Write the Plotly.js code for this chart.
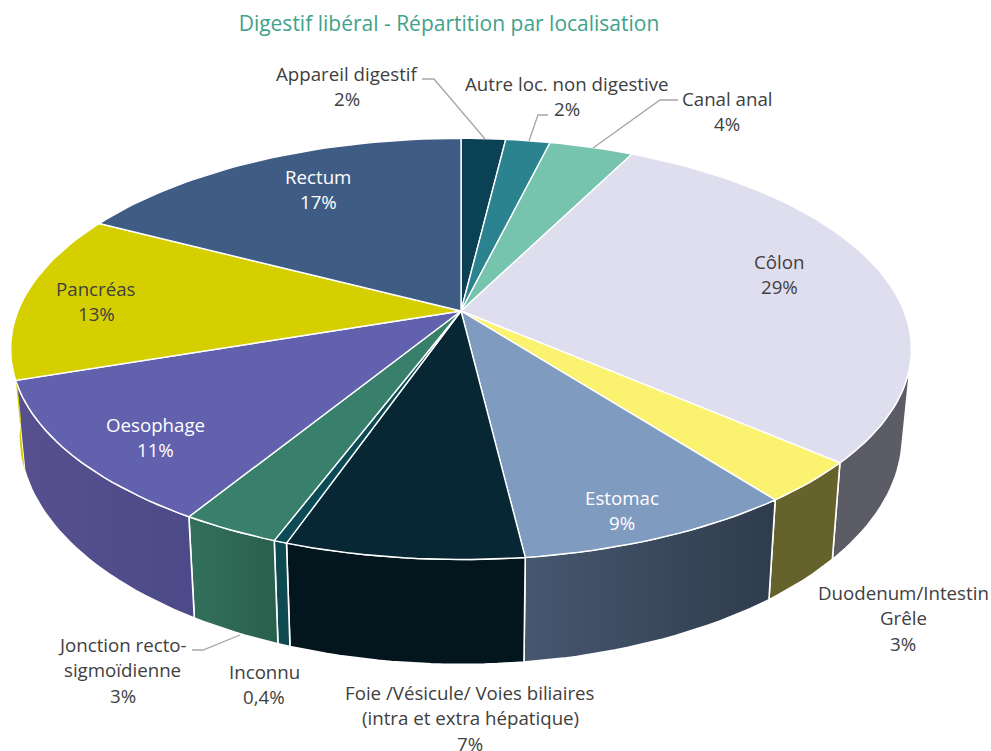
<!DOCTYPE html>
<html>
<head>
<meta charset="utf-8">
<script src="https://cdn.plot.ly/plotly-3.0.1.min.js"></script>
<style>html,body{margin:0;padding:0;background:#fff}#c{width:991px;height:751px}</style>
</head>
<body>
<div id="c"></div>
<script>
// ---- data ----
const categories = ["Appareil digestif","Autre loc. non digestive","Canal anal","Côlon","Duodenum/Intestin Grêle","Estomac","Foie /Vésicule/ Voies biliaires (intra et extra hépatique)","Inconnu","Jonction recto-sigmoïdienne","Oesophage","Pancréas","Rectum"];
const values = [1.9,1.9,3.6,29,3.2,8.5,7.2,0.4,3,11.1,12.9,17.3];
const topColors = ["#0b4155","#2a838e","#76c3ae","#dfdeee","#fbf36f","#7f9bbf","#062733","#0c4a55","#38806c","#6261ad","#d6cf00","#3f5d84"];
const wallLeft  = ["#0b4155","#2a838e","#76c3ae","#5c5c66","#66622c","#2f3c4c","#03161e","#0f4a50","#295f4e","#4c4a88","#d6cf00","#3f5d84"];
const wallRight = ["#0b4155","#2a838e","#76c3ae","#5c5c66","#66622c","#475770","#03161e","#0f4a50","#33715b","#57508f","#d6cf00","#3f5d84"];
const labelLines = [
  ["Appareil digestif","2%"],
  ["Autre loc. non digestive","2%"],
  ["Canal anal","4%"],
  ["Côlon","29%"],
  ["Duodenum/Intestin","Grêle","3%"],
  ["Estomac","9%"],
  ["Foie /Vésicule/ Voies biliaires","(intra et extra hépatique)","7%"],
  ["Inconnu","0,4%"],
  ["Jonction recto-","sigmoïdienne","3%"],
  ["Oesophage","11%"],
  ["Pancréas","13%"],
  ["Rectum","17%"]
];
const chartTitle = "Digestif libéral - Répartition par localisation";

// ---- layout of the drawing ----
const labelAnchor = [[347,73],[567,83],[727,98],[779,261],[903,592],[622,497],[470,692],[264,671],[122.5,644],[155,424],[96,288],[318,176]];
const labelColor = ["#404040","#404040","#404040","#404040","#404040","#ffffff","#404040","#404040","#404040","#ffffff","#404040","#ffffff"];
const leaders = [
  [[422,434,485],[79,79,139]],
  [[548,538,529],[115,115,141]],
  [[678,660,593],[100,100,148]],
  [[192,203,240],[650,650,635]]
];
const cx=461, cy=311, A=443, B=203.8, K=0.18;
const WALL_FROM=103, WALL_TO=264;

// perspective projection of the pie's rim; angle in degrees clockwise from 12 o'clock
function rimTop(deg){
  const t=deg*Math.PI/180, X=Math.sin(t), Y=-Math.cos(t), w=1-K*Y;
  return [cx+A*X/w, cy+B*Y/w];
}
function rimBottom(deg){
  const p=rimTop(deg);
  return [cx+0.98*(p[0]-cx), cy+1.084*(p[1]-cy)+84];
}
function arc(f,a,b){
  const n=Math.max(2,Math.ceil(Math.abs(b-a)/1.5)), out=[];
  for(let i=0;i<=n;i++) out.push(f(a+(b-a)*i/n));
  return out;
}
const total=values.reduce((s,v)=>s+v,0);
let acc=0;
const spans=values.map(v=>{const a=acc/total*360; acc+=v; return [a,acc/total*360];});

const traces=[];
const base={type:'scatter',mode:'lines',fill:'toself',hoverinfo:'skip',showlegend:false};

// side walls, the rim seen from the front
spans.forEach((s,i)=>{
  const a=Math.max(s[0],WALL_FROM), b=Math.min(s[1],WALL_TO);
  if(b<=a) return;
  const pts=arc(rimTop,a,b).concat(arc(rimBottom,a,b).reverse());
  pts.push(pts[0]);
  const sliver=(i===10);
  traces.push(Object.assign({},base,{
    name:categories[i]+' (side)',
    x:pts.map(p=>p[0]),y:pts.map(p=>p[1]),
    line:{color:'#ffffff',width:sliver?0:1.6},
    fillgradient:{type:'horizontal',colorscale:[[0,wallRight[i]],[1,wallLeft[i]]]}
  }));
});
// upper faces
spans.forEach((s,i)=>{
  const pts=[[cx,cy]].concat(arc(rimTop,s[0],s[1]));
  pts.push([cx,cy]);
  traces.push(Object.assign({},base,{
    name:categories[i],
    x:pts.map(p=>p[0]),y:pts.map(p=>p[1]),
    line:{color:'#ffffff',width:1.4},
    fillcolor:topColors[i]
  }));
});
// leader lines
leaders.forEach(l=>traces.push({type:'scatter',mode:'lines',x:l[0],y:l[1],hoverinfo:'skip',showlegend:false,line:{color:'#a6a6a6',width:1.3}}));

const annotations=[];
labelLines.forEach((lines,i)=>lines.forEach((t,j)=>annotations.push({
  text:t,xref:'x',yref:'y',x:labelAnchor[i][0],y:labelAnchor[i][1]+j*25.6,
  xanchor:'center',yanchor:'middle',showarrow:false,
  font:{family:'"Open Sans",sans-serif',size:18.7,color:labelColor[i]}
})));

Plotly.newPlot('c',traces,{
  width:991,height:751,
  margin:{l:0,r:0,t:0,b:0},
  paper_bgcolor:'#ffffff',plot_bgcolor:'#ffffff',
  title:{text:chartTitle,x:449/991,xanchor:'center',y:1-24/751,yanchor:'middle',font:{family:'"Open Sans",sans-serif',size:21,color:'#3fa28b'}},
  xaxis:{range:[0,991],visible:false,fixedrange:true},
  yaxis:{range:[751,0],visible:false,fixedrange:true},
  annotations:annotations,
  showlegend:false
},{displayModeBar:false,staticPlot:true});
</script>
</body>
</html>
